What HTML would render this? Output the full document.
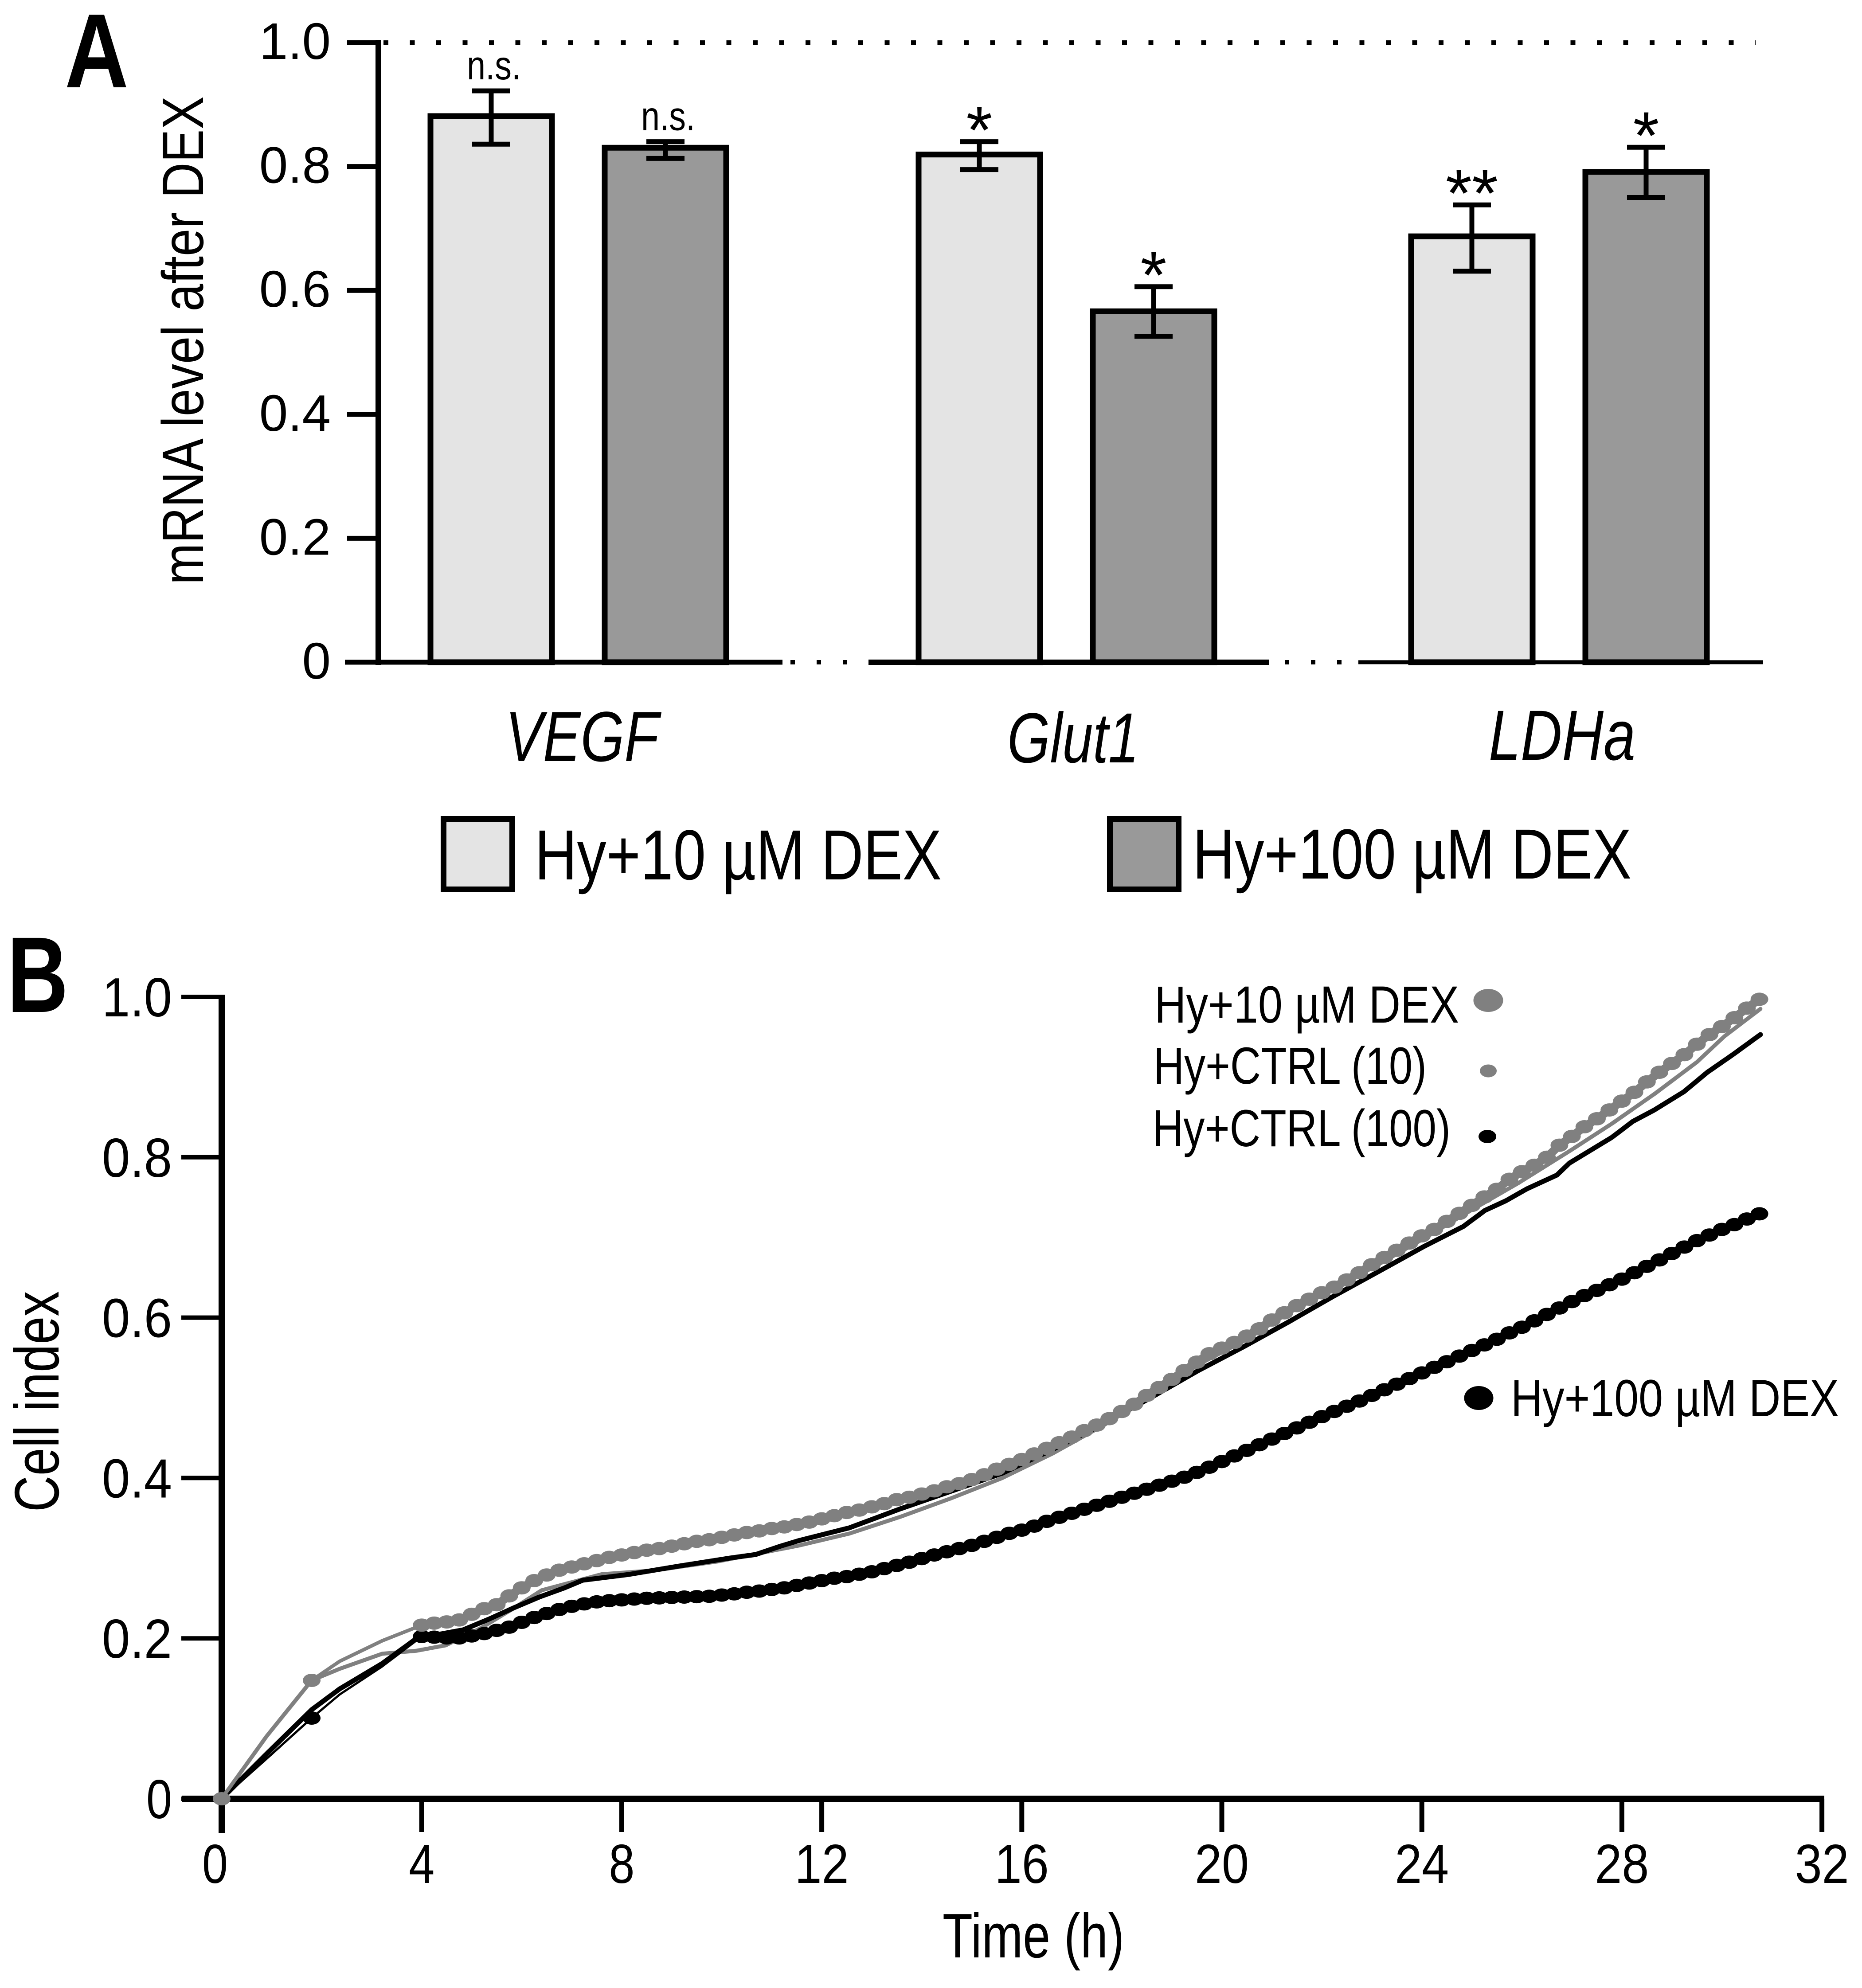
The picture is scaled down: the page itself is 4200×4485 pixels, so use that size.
<!DOCTYPE html>
<html lang="en">
<head>
<meta charset="utf-8">
<title>mRNA level and cell index after DEX</title>
<style>
html,body{margin:0;padding:0;background:#fff}
svg{display:block}
text{font-family:"Liberation Sans",sans-serif;fill:#000}
</style>
</head>
<body>
<svg id="figure" xmlns="http://www.w3.org/2000/svg" width="4200" height="4485" viewBox="0 0 4200 4485">
  <rect width="4200" height="4485" fill="#fff"/>

  <g id="panel-a">
    <text x="146" y="197" font-size="238" font-weight="700" textLength="144" lengthAdjust="spacingAndGlyphs">A</text>
    <text transform="rotate(-90 458 1319)" x="458" y="1319" font-size="132" textLength="1102" lengthAdjust="spacingAndGlyphs">mRNA level after DEX</text>
    <line x1="865" y1="96" x2="3960" y2="96" stroke="#000" stroke-width="10" stroke-dasharray="11 48.5"/>
    <line x1="853" y1="90" x2="853" y2="1500" stroke="#000" stroke-width="12"/>
    <line x1="778" y1="1494" x2="1765" y2="1494" stroke="#000" stroke-width="11"/>
    <line x1="1959" y1="1494" x2="2863" y2="1494" stroke="#000" stroke-width="12"/>
    <line x1="3064" y1="1494" x2="3977" y2="1494" stroke="#000" stroke-width="9"/>
    <line x1="1783" y1="1494" x2="1915" y2="1494" stroke="#000" stroke-width="10" stroke-dasharray="10 49"/>
    <line x1="2898" y1="1494" x2="3030" y2="1494" stroke="#000" stroke-width="10" stroke-dasharray="10 49"/>
    <g id="a-ticks"></g>
    <g id="a-bars"></g>
    <text x="1140" y="1717" font-size="160" font-style="italic" textLength="346" lengthAdjust="spacingAndGlyphs">VEGF</text>
    <text x="2272" y="1720" font-size="160" font-style="italic" textLength="297" lengthAdjust="spacingAndGlyphs">Glut1</text>
    <text x="3358" y="1714" font-size="160" font-style="italic" textLength="331" lengthAdjust="spacingAndGlyphs">LDHa</text>
    <g>
      <rect x="1000.5" y="1847.5" width="155" height="159" fill="#e4e4e4" stroke="#000" stroke-width="13"/>
      <text x="1206" y="1984" font-size="160" textLength="918" lengthAdjust="spacingAndGlyphs">Hy+10 µM DEX</text>
      <rect x="2503.5" y="1847.5" width="155" height="159" fill="#999" stroke="#000" stroke-width="13"/>
      <text x="2690" y="1982" font-size="160" textLength="990" lengthAdjust="spacingAndGlyphs">Hy+100 µM DEX</text>
    </g>
  </g>

  <g id="panel-b">
    <text x="16" y="2283" font-size="243" font-weight="700" textLength="138" lengthAdjust="spacingAndGlyphs">B</text>
    <text transform="rotate(-90 132 3411)" x="132" y="3411" font-size="142" textLength="498" lengthAdjust="spacingAndGlyphs">Cell index</text>
    <text x="2126" y="4416" font-size="142" textLength="410" lengthAdjust="spacingAndGlyphs">Time (h)</text>
    <g id="b-axes"></g>
    <g id="b-series"></g>
    <g>
      <text x="2604" y="2307" font-size="118" textLength="687" lengthAdjust="spacingAndGlyphs">Hy+10 µM DEX</text>
      <ellipse cx="3357" cy="2257" rx="33.5" ry="26" fill="#808080"/>
      <text x="2602" y="2445" font-size="118" textLength="616" lengthAdjust="spacingAndGlyphs">Hy+CTRL (10)</text>
      <ellipse cx="3357" cy="2416" rx="19" ry="14.5" fill="#808080"/>
      <text x="2600" y="2586" font-size="118" textLength="672" lengthAdjust="spacingAndGlyphs">Hy+CTRL (100)</text>
      <ellipse cx="3355" cy="2564" rx="20" ry="15" fill="#000"/>
      <ellipse cx="3335.5" cy="3154" rx="33" ry="27" fill="#000"/>
      <text x="3408" y="3195" font-size="118" textLength="740" lengthAdjust="spacingAndGlyphs">Hy+100 µM DEX</text>
    </g>
  </g>
</svg>

<script>
/* ---------- Panel A data ---------- */
const geneNames = ["VEGF", "Glut1", "LDHa"];
const mrna10 = [0.882, 0.820, 0.688];
const mrna100 = [0.831, 0.567, 0.792];
const errTop10 = [0.922, 0.840, 0.738];
const errBottom10 = [0.836, 0.795, 0.631];
const errTop100 = [0.840, 0.606, 0.831];
const errBottom100 = [0.813, 0.526, 0.750];
const sig10 = ["n.s.", "*", "**"];
const sig100 = ["n.s.", "*", "*"];
const yTicksA = [0, 0.2, 0.4, 0.6, 0.8, 1.0];
const yTickLabelsA = ["0", "0.2", "0.4", "0.6", "0.8", "1.0"];

/* ---------- Panel B data ---------- */
const xTicksB = [0, 4, 8, 12, 16, 20, 24, 28, 32];
const xTickLabelsB = ["0", "4", "8", "12", "16", "20", "24", "28", "32"];
const yTicksB = [0, 0.2, 0.4, 0.6, 0.8, 1.0];
const yTickLabelsB = ["0", "0.2", "0.4", "0.6", "0.8", "1.0"];

const markerHours = [0,1.8,4,4.25,4.5,4.75,5,5.25,5.5,5.75,6,6.25,6.5,6.75,7,7.25,7.5,7.75,8,8.25,8.5,8.75,9,9.25,9.5,9.75,10,10.25,10.5,10.75,11,11.25,11.5,11.75,12,12.25,12.5,12.75,13,13.25,13.5,13.75,14,14.25,14.5,14.75,15,15.25,15.5,15.75,16,16.25,16.5,16.75,17,17.25,17.5,17.75,18,18.25,18.5,18.75,19,19.25,19.5,19.75,20,20.25,20.5,20.75,21,21.25,21.5,21.75,22,22.25,22.5,22.75,23,23.25,23.5,23.75,24,24.25,24.5,24.75,25,25.25,25.5,25.75,26,26.25,26.5,26.75,27,27.25,27.5,27.75,28,28.25,28.5,28.75,29,29.25,29.5,29.75,30,30.25,30.5,30.75];

const dex10Values = [0,0.1476,0.2165,0.219,0.2205,0.223,0.230,0.237,0.242,0.253,0.263,0.272,0.279,0.285,0.289,0.293,0.297,0.301,0.304,0.307,0.310,0.312,0.315,0.318,0.321,0.323,0.326,0.329,0.332,0.334,0.337,0.339,0.342,0.345,0.349,0.353,0.357,0.360,0.364,0.368,0.373,0.376,0.380,0.384,0.389,0.393,0.398,0.404,0.411,0.417,0.423,0.430,0.437,0.444,0.451,0.459,0.466,0.474,0.483,0.492,0.503,0.513,0.523,0.534,0.5445,0.555,0.562,0.569,0.577,0.586,0.597,0.606,0.615,0.623,0.631,0.638,0.647,0.656,0.666,0.675,0.684,0.693,0.702,0.710,0.720,0.730,0.740,0.7505,0.760,0.7725,0.782,0.790,0.800,0.815,0.826,0.838,0.848,0.859,0.870,0.881,0.894,0.906,0.917,0.928,0.941,0.953,0.963,0.974,0.986,0.997];

const dex100Values = [0,0.1006,0.2023,0.2015,0.2005,0.2005,0.203,0.206,0.210,0.214,0.220,0.226,0.231,0.236,0.240,0.243,0.2455,0.247,0.248,0.249,0.250,0.2505,0.251,0.2515,0.252,0.2525,0.254,0.2555,0.2575,0.259,0.261,0.263,0.266,0.269,0.272,0.275,0.277,0.280,0.283,0.287,0.291,0.295,0.2995,0.304,0.308,0.312,0.316,0.321,0.326,0.331,0.335,0.340,0.346,0.351,0.356,0.361,0.366,0.371,0.376,0.381,0.386,0.391,0.396,0.401,0.407,0.4135,0.4205,0.4275,0.4345,0.4415,0.4485,0.4555,0.4625,0.4695,0.4765,0.483,0.4895,0.496,0.503,0.51,0.517,0.524,0.531,0.538,0.545,0.552,0.559,0.566,0.573,0.581,0.588,0.596,0.604,0.612,0.620,0.6275,0.634,0.641,0.648,0.656,0.664,0.672,0.680,0.688,0.696,0.703,0.710,0.716,0.723,0.7295];

const dex10EarlyHours = [0,0.9,1.8,2.36,3.21,4];
const dex10EarlyValues = [0,0.078,0.1476,0.1714,0.197,0.2165];
const dex100EarlyHours = [0,0.9,1.8,2.36,3.21,4];
const dex100EarlyValues = [0,0.050,0.1006,0.130,0.165,0.2023];

const ctrl10Hours = [0,0.9,1.8,2.36,3.21,3.9,4.48,5.2,5.8,6.4,7,7.6,8.64,9.9,11.53,12.55,13.57,14.59,15.6,16.62,17.64,18.66,19.53,20.44,21.34,22.24,23.15,24.05,24.96,25.93,26.95,27.8,28.65,29.5,30.05,30.77];
const ctrl10Values = [0,0.078,0.1476,0.162,0.1808,0.1846,0.1913,0.2134,0.236,0.26,0.27,0.28,0.2847,0.2957,0.3156,0.3306,0.3516,0.3748,0.3997,0.4306,0.466,0.505,0.5415,0.571,0.606,0.636,0.667,0.699,0.733,0.7678,0.8076,0.8419,0.8789,0.9187,0.9508,0.985];

const ctrl100Hours = [0,0.9,1.8,2.36,3.21,3.9,4.83,5.34,5.85,6.35,6.86,7.22,8.14,9.15,10.17,10.68,11.18,11.53,12.55,13.57,14.59,15.6,16.62,17.64,18.66,19.53,20.44,21.34,22.24,23.15,24.05,24.83,25.26,25.68,26.1,26.7,26.95,27.8,28.22,28.65,29.24,29.71,30.22,30.77];
const ctrl100Values = [0,0.056,0.111,0.137,0.1686,0.2,0.2106,0.2239,0.2383,0.2515,0.2631,0.2725,0.2797,0.2902,0.3002,0.3046,0.3151,0.3217,0.3378,0.3615,0.3836,0.4057,0.4356,0.4677,0.503,0.534,0.5638,0.5948,0.6269,0.658,0.689,0.7137,0.7336,0.7457,0.7606,0.7778,0.7927,0.8248,0.8447,0.859,0.8817,0.906,0.9281,0.953];

/* ---------- helpers and scales ---------- */
const SVG_NS = "http://www.w3.org/2000/svg";
function make(tag, parent, attrs) {
  const node = document.createElementNS(SVG_NS, tag);
  for (const key in attrs) node.setAttribute(key, attrs[key]);
  parent.appendChild(node);
  return node;
}
function yA(v) { return 1494 - 1398 * v; }
function groupCenter(g) { return 1108 + 1106 * g + (g === 1 ? -5 : 0); }
function xB(t) { return 500 + 112.8 * t; }
function yB(v) { return 4058 - 1809 * v; }
function pointsOf(hours, values) {
  return hours.map(function (h, i) { return xB(h).toFixed(1) + "," + yB(values[i]).toFixed(1); }).join(" ");
}

/* ---------- Panel A drawing ---------- */
const aTicks = document.getElementById("a-ticks");
yTicksA.forEach(function (v, i) {
  const tick = make("line", aTicks, { x1: 783, x2: 853, y1: yA(v), y2: yA(v), stroke: "#000", "stroke-width": 11 });
  
  
  const label = make("text", aTicks, { x: 746, y: yA(v) + 37, "font-size": 116, "text-anchor": "end" });
  label.textContent = yTickLabelsA[i];
  
  
});

const aBars = document.getElementById("a-bars");
function drawBar(center, value, top, bottom, fill, sig) {
  const bar = make("rect", aBars, { x: center - 137, y: yA(value) + 1, width: 274, height: 1494 - yA(value) - 1, fill: fill, stroke: "#000", "stroke-width": 13 });
  
  
  const stem = make("line", aBars, { x1: center, x2: center, y1: yA(top), y2: yA(bottom), stroke: "#000", "stroke-width": 11 });
  
  
  [top, bottom].forEach(function (e) {
    const cap = make("line", aBars, { x1: center - 43, x2: center + 43, y1: yA(e), y2: yA(e), stroke: "#000", "stroke-width": 11 });
    
    
  });
  const isNs = sig === "n.s.";
  const mark = make("text", aBars, isNs
    ? { x: center + 6, y: yA(top) - 26, "font-size": 92, "text-anchor": "middle" }
    : { x: center, y: yA(top) + 26, "font-size": 152, "text-anchor": "middle" });
  if (isNs) { mark.setAttribute("textLength", 122); mark.setAttribute("lengthAdjust", "spacingAndGlyphs"); }
  mark.textContent = sig;
  
  
}
geneNames.forEach(function (gene, g) {
  drawBar(groupCenter(g), mrna10[g], errTop10[g], errBottom10[g], "#e4e4e4", sig10[g]);
  drawBar(groupCenter(g) + 393, mrna100[g], errTop100[g], errBottom100[g], "#999", sig100[g]);
});

/* ---------- Panel B drawing ---------- */
const bAxes = document.getElementById("b-axes");
const yAxisB = make("line", bAxes, { x1: 500, x2: 500, y1: 2244, y2: 4135, stroke: "#000", "stroke-width": 14 });


const xAxisB = make("line", bAxes, { x1: 410, x2: 4115, y1: 4058, y2: 4058, stroke: "#000", "stroke-width": 14 });



yTicksB.forEach(function (v, i) {
  const tick = make("line", bAxes, { x1: 409, x2: 500, y1: yB(v), y2: yB(v), stroke: "#000", "stroke-width": 10 });
  
  
  const label = make("text", bAxes, { x: 388, y: yB(v) + 44, "font-size": 124, "text-anchor": "end", textLength: yTickLabelsB[i].length > 1 ? 158 : 58, lengthAdjust: "spacingAndGlyphs" });
  label.textContent = yTickLabelsB[i];
  
  
});
xTicksB.forEach(function (t, i) {
  if (t > 0) {
    const tick = make("line", bAxes, { x1: xB(t), x2: xB(t), y1: 4058, y2: 4133, stroke: "#000", "stroke-width": 11 });
    
    
  }
  const label = make("text", bAxes, { x: xB(t) - (t === 0 ? 15 : 0), y: 4248, "font-size": 124, "text-anchor": "middle", textLength: xTickLabelsB[i].length > 1 ? 122 : 58, lengthAdjust: "spacingAndGlyphs" });
  label.textContent = xTickLabelsB[i];
  
  
});

const bSeries = document.getElementById("b-series");
function drawLine(hours, values, color, width, name) {
  const line = make("polyline", bSeries, { points: pointsOf(hours, values), fill: "none", stroke: color, "stroke-width": width, "stroke-linejoin": "round", "stroke-linecap": "round" });
  
  
}
function drawMarkers(values, color, name) {
  const group = make("g", bSeries, { fill: color });
  
  
  markerHours.forEach(function (h, i) {
    const dot = make("ellipse", group, { cx: xB(h), cy: yB(values[i]), rx: 20, ry: 15 });
    
    
  });
}
drawLine(ctrl10Hours, ctrl10Values, "#808080", 9, "line-ctrl-10");
drawLine(ctrl100Hours, ctrl100Values, "#000", 11, "line-ctrl-100");
drawLine(dex100EarlyHours, dex100EarlyValues, "#000", 5, "line-dex-100-early");
drawLine(markerHours.slice(2), dex100Values.slice(2), "#000", 19, "band-dex-100");
drawMarkers(dex100Values, "#000", "markers-dex-100");
drawLine(dex10EarlyHours, dex10EarlyValues, "#808080", 8, "line-dex-10-early");
drawLine(markerHours.slice(2), dex10Values.slice(2), "#808080", 19, "band-dex-10");
drawMarkers(dex10Values, "#808080", "markers-dex-10");
</script>
</body>
</html>
